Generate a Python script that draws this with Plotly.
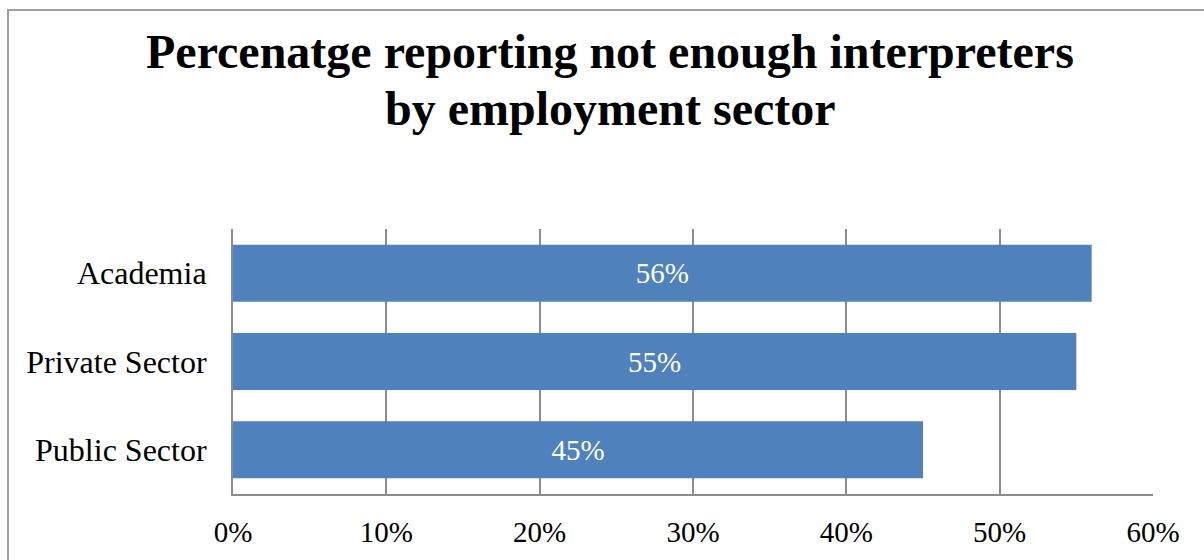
import plotly.graph_objects as go

# Survey results by employment sector
sectors = ["Public Sector", "Private Sector", "Academia"]
pct_not_enough = [45, 55, 56]
tick_vals = [0, 10, 20, 30, 40, 50, 60]
tick_text = ["0%", "10%", "20%", "30%", "40%", "50%", "60%"]

title_lines = ["Percenatge reporting not enough interpreters", "by employment sector"]

SERIF = "Liberation Serif, Times New Roman, serif"
GRID = "#8c8c8c"

fig = go.Figure(
    go.Bar(
        y=sectors,
        x=pct_not_enough,
        orientation="h",
        marker=dict(color="#4F81BD", line=dict(width=0)),
        text=[f"{v}%" for v in pct_not_enough],
        textposition="inside",
        insidetextanchor="middle",
        textfont=dict(family=SERIF, size=29, color="white"),
        width=0.645,
    )
)

fig.update_layout(
    width=1204,
    height=560,
    margin=dict(l=233, r=51, t=229, b=66),
    paper_bgcolor="white",
    plot_bgcolor="white",
    showlegend=False,
    font=dict(family=SERIF, size=29, color="black"),
)

fig.update_xaxes(
    range=[0, 60],
    tickvals=tick_vals,
    ticktext=tick_text,
    showgrid=True,
    gridcolor=GRID,
    gridwidth=2,
    zeroline=False,
    showline=True,
    linecolor=GRID,
    linewidth=2,
    ticks="",
    ticklabelstandoff=11,
    tickfont=dict(family=SERIF, size=29, color="black"),
    automargin=False,
    fixedrange=True,
)
fig.update_yaxes(
    showgrid=False,
    showline=True,
    linecolor=GRID,
    linewidth=2,
    ticks="",
    ticklabelstandoff=18,
    tickfont=dict(family=SERIF, size=32, color="black"),
    automargin=False,
    fixedrange=True,
)

# Two-line bold heading
for i, (line, ypos) in enumerate(zip(title_lines, [52, 108])):
    fig.add_annotation(
        text=f"<b>{line}</b>",
        xref="paper", yref="paper",
        x=(610 - 233) / 920, y=(494 - ypos) / 265,
        xanchor="center", yanchor="middle",
        showarrow=False,
        font=dict(family=SERIF, size=48, color="black"),
    )

# Chart frame
fig.add_shape(
    type="rect", xref="paper", yref="paper",
    x0=(8 - 233) / 920, x1=(1215 - 233) / 920,
    y0=(494 - 575) / 265, y1=(494 - 10) / 265,
    line=dict(color="#a0a0a0", width=2),
    fillcolor="rgba(0,0,0,0)",
    layer="below",
)

fig.write_html("out.html")
